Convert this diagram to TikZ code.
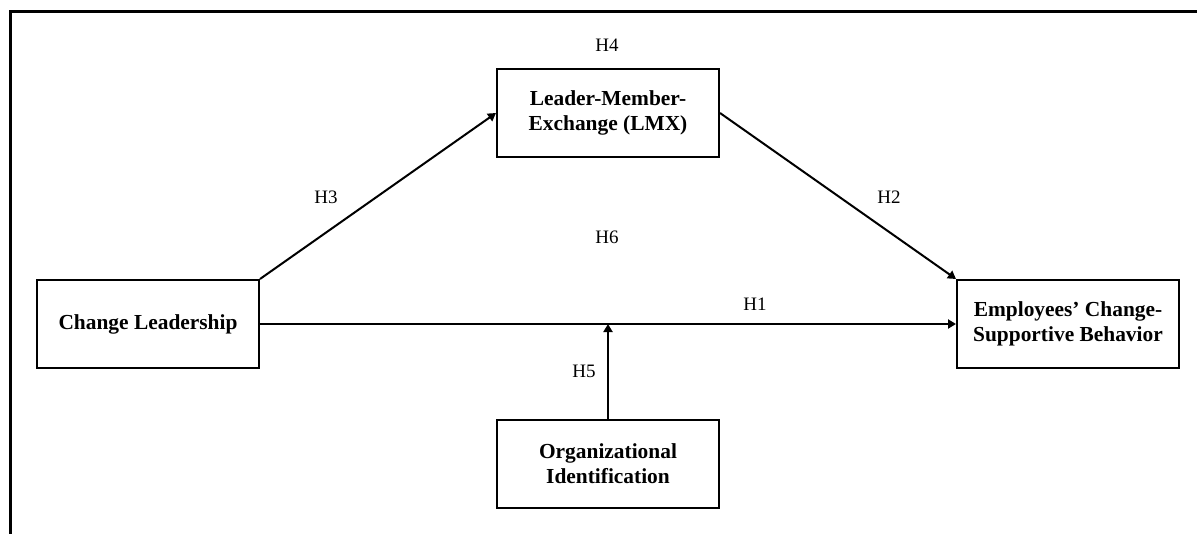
\documentclass[tikz,border=0pt]{standalone}
\usepackage{fontspec}
\setmainfont{Liberation Serif}
\usepackage{tikz}
\usetikzlibrary{positioning}
\usetikzlibrary{shapes.geometric, arrows.meta}
\tikzstyle{construct} = [rectangle, minimum width=111pt, minimum height=44pt, text centered, align=center, draw=black, line width=1pt, font=\bfseries\fontsize{10.7}{12.5}\selectfont]
\tikzstyle{hyp} = [inner sep=0pt, font=\fontsize{9.5}{11}\selectfont]
\tikzstyle{arrow} = [line width=1pt,->,>={Triangle[length=4pt,width=4.5pt]}]
\tikzstyle{frame} = [line width=1.6pt]

\begin{document}
\begin{tikzpicture}[x=0.5pt, y=-0.5pt, node distance=230pt]

	\useasboundingbox (0,0) rectangle (1197,534);

% Frame

	\draw [frame] (1197,11.7) -- (10.5,11.7) -- (10.5,534);


% Independent variable

	\node (changeLead) [construct] at (148,324) {Change Leadership};


% Mediator

	\node (lmx) [construct, right of=changeLead, yshift=105.5pt] {Leader-Member-\\Exchange (LMX)};


% Outcome

	\node (employees) [construct, right of=lmx, yshift=-105.5pt] {Employees' Change-\\Supportive Behavior};


% Moderator

	\node (orgIdent) [construct, node distance=175.5pt, below of=lmx] {Organizational\\Identification};


% Hypotheses

	\node (h1) [hyp] at (755,304) {H1};
	\node (h2) [hyp] at (889,197) {H2};
	\node (h3) [hyp] at (326,197) {H3};
	\node (h4) [hyp] at (607,45) {H4};
	\node (h5) [hyp] at (584,371) {H5};
	\node (h6) [hyp] at (607,237) {H6};






% Paths through LMX
	\draw [arrow] (changeLead.north east) -- (lmx.west);
	\draw [arrow] (lmx.east) -- (employees.north west);


% Direct path
	\draw [arrow] (changeLead) -- (employees);


% Moderation
	\draw [arrow] (orgIdent) -- (orgIdent.north |- changeLead.east);


	\end{tikzpicture}
\end{document}
